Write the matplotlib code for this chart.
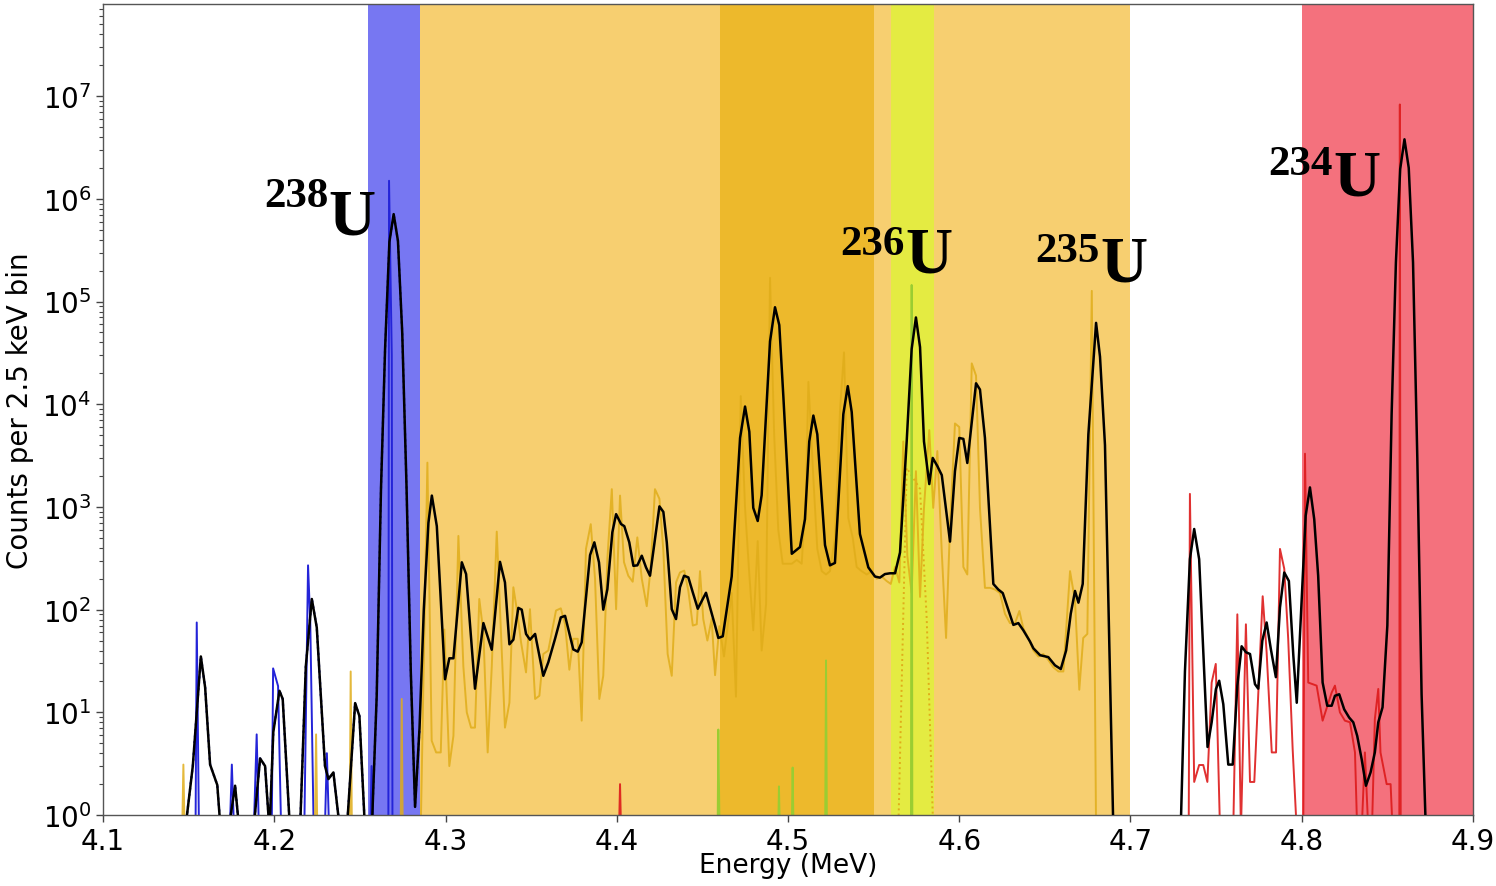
import matplotlib
matplotlib.use("Agg")
import matplotlib.pyplot as plt
from matplotlib.ticker import NullFormatter
import numpy as np

# ---------------- data (energy in MeV, counts per bin) ----------------
total_E = [4.1479, 4.1524, 4.1571, 4.1596, 4.1625, 4.1667, 4.1687, 4.1732, 4.1771, 4.1796,
           4.1878, 4.1917, 4.1946, 4.1972, 4.1994, 4.2030, 4.2049, 4.2092, 4.2150, 4.2184,
           4.2219, 4.2248, 4.2296, 4.2316, 4.2345, 4.2384, 4.2423, 4.2472, 4.2497, 4.2530,
           4.2569, 4.2598, 4.2623, 4.2647, 4.2672, 4.2697, 4.2722, 4.2747, 4.2772, 4.2797,
           4.2822, 4.2848, 4.2873, 4.2900, 4.2920, 4.2949, 4.2997, 4.3022, 4.3046, 4.3095,
           4.3120, 4.3172, 4.3221, 4.3270, 4.3318, 4.3347, 4.3373, 4.3396, 4.3425, 4.3445,
           4.3470, 4.3493, 4.3523, 4.3571, 4.3600, 4.3639, 4.3673, 4.3698, 4.3746, 4.3772,
           4.3795, 4.3844, 4.3869, 4.3896, 4.3921, 4.3945, 4.3974, 4.3996, 4.4025, 4.4044,
           4.4073, 4.4097, 4.4120, 4.4146, 4.4171, 4.4194, 4.4223, 4.4249, 4.4272, 4.4292,
           4.4321, 4.4346, 4.4369, 4.4393, 4.4418, 4.4444, 4.4473, 4.4521, 4.4574, 4.4593,
           4.4619, 4.4671, 4.4720, 4.4749, 4.4774, 4.4797, 4.4823, 4.4846, 4.4895, 4.4924,
           4.4949, 4.4973, 4.5022, 4.5070, 4.5099, 4.5124, 4.5148, 4.5171, 4.5216, 4.5245,
           4.5274, 4.5323, 4.5349, 4.5372, 4.5420, 4.5469, 4.5508, 4.5537, 4.5566, 4.5596,
           4.5625, 4.5654, 4.5693, 4.5722, 4.5747, 4.5771, 4.5794, 4.5825, 4.5845, 4.5872,
           4.5898, 4.5946, 4.5975, 4.6000, 4.6024, 4.6047, 4.6073, 4.6098, 4.6121, 4.6150,
           4.6199, 4.6228, 4.6254, 4.6286, 4.6316, 4.6345, 4.6374, 4.6413, 4.6433, 4.6472,
           4.6520, 4.6559, 4.6593, 4.6624, 4.6651, 4.6676, 4.6696, 4.6721, 4.6754, 4.6799,
           4.6822, 4.6851, 4.6875, 4.6900, 4.7293, 4.7318, 4.7347, 4.7372, 4.7401, 4.7450,
           4.7474, 4.7499, 4.7518, 4.7542, 4.7571, 4.7597, 4.7624, 4.7649, 4.7674, 4.7698,
           4.7727, 4.7746, 4.7770, 4.7795, 4.7820, 4.7849, 4.7873, 4.7898, 4.7925, 4.7951,
           4.7971, 4.8023, 4.8048, 4.8073, 4.8096, 4.8122, 4.8149, 4.8175, 4.8194, 4.8219,
           4.8248, 4.8277, 4.8301, 4.8324, 4.8350, 4.8375, 4.8402, 4.8427, 4.8447, 4.8472,
           4.8500, 4.8525, 4.8550, 4.8575, 4.8600, 4.8625, 4.8650, 4.8675, 4.8700, 4.8725]
total_N = [0.7, 3.0, 35, 17.5, 3.1, 1.96, 0.7, 0.7, 1.93, 0.7,
           0.7, 3.56, 3.0, 0.7, 6.4, 16.2, 13.5, 0.7, 0.7, 28,
           127, 67, 3.0, 2.24, 2.6, 0.7, 0.7, 12.3, 9.2, 0.7,
           0.7, 14.5, 1500, 3.5e4, 3.8e5, 7.1e5, 3.9e5, 5.0e4, 1600, 25,
           1.2, 7, 100, 700, 1290, 650, 21, 33.6, 33.6, 289,
           222, 17, 74, 40.7, 292, 184, 46, 51, 104, 100,
           58, 51, 58, 22.7, 30.7, 51.7, 84, 87, 41, 39,
           48, 340, 452, 289, 100, 158, 566, 851, 681, 650,
           452, 267, 270, 335, 257, 214, 487, 1013, 895, 452,
           101, 81, 165, 214, 206, 147, 102, 146, 70, 53,
           55, 210, 4700, 9500, 5400, 980, 730, 1300, 41000, 88000,
           59000, 11700, 350, 407, 760, 4340, 7760, 5100, 425, 270,
           285, 8000, 15000, 8400, 545, 258, 210, 205, 222, 226,
           226, 360, 4340, 34400, 70000, 36000, 4340, 1670, 3000, 2500,
           2040, 460, 2230, 4700, 4600, 2680, 6600, 16000, 13900, 4700,
           178, 157, 145, 100, 71, 74, 63, 49, 42, 36,
           34.5, 28.7, 26.4, 40, 91, 152, 117, 178, 5100, 62000,
           29000, 4000, 60, 0.7, 0.7, 25, 310, 610, 310, 4.6,
           8, 16.9, 20.3, 12, 3.1, 3.1, 18.2, 44, 38.5, 37,
           18.8, 17, 50, 75, 41, 22, 105, 230, 190, 35.7,
           12.4, 820, 1550, 760, 214, 19.5, 11.6, 11.6, 14.5, 15,
           10.7, 8.9, 8, 5.9, 3.5, 1.93, 2.6, 4.07, 8, 11.2,
           70, 8000, 2.4e5, 1.95e6, 3.8e6, 2.0e6, 2.4e5, 3000, 15, 0.7]

u238_E = [4.1540, 4.1547, 4.1560, 4.1740, 4.1752, 4.1765, 4.1880, 4.1897, 4.1910, 4.1985,
          4.1993, 4.2022, 4.2040, 4.2175, 4.2197, 4.2210, 4.2230, 4.2295, 4.2307, 4.2320,
          4.2560, 4.2568, 4.2580, 4.2666, 4.2670, 4.2686, 4.2690]
u238_N = [0.7, 75, 0.7, 0.7, 3.1, 0.7, 0.7, 6.1, 0.7, 0.7,
          26.8, 18, 0.7, 0.7, 270, 75, 0.7, 0.7, 4.0, 0.7,
          0.7, 3.0, 0.7, 0.7, 1.5e6, 3.0e4, 0.7]

u235_E = [4.1462, 4.1469, 4.1476, 4.2237, 4.2244, 4.2251, 4.2440, 4.2446, 4.2453, 4.2738,
          4.2744, 4.2750, 4.2855, 4.2894, 4.2919, 4.2945, 4.2972, 4.2993, 4.3022, 4.3046,
          4.3075, 4.3104, 4.3124, 4.3149, 4.3172, 4.3197, 4.3221, 4.3246, 4.3270, 4.3299,
          4.3328, 4.3347, 4.3373, 4.3396, 4.3419, 4.3441, 4.3470, 4.3493, 4.3523, 4.3548,
          4.3571, 4.3600, 4.3645, 4.3673, 4.3698, 4.3723, 4.3746, 4.3772, 4.3795, 4.3820,
          4.3848, 4.3873, 4.3898, 4.3921, 4.3945, 4.3971, 4.3996, 4.4019, 4.4042, 4.4067,
          4.4093, 4.4120, 4.4146, 4.4175, 4.4198, 4.4223, 4.4249, 4.4272, 4.4297, 4.4321,
          4.4346, 4.4369, 4.4394, 4.4418, 4.4444, 4.4467, 4.4486, 4.4505, 4.4529, 4.4554,
          4.4574, 4.4599, 4.4626, 4.4671, 4.4696, 4.4724, 4.4749, 4.4774, 4.4797, 4.4823,
          4.4846, 4.4872, 4.4895, 4.4919, 4.4943, 4.4969, 4.4996, 4.5022, 4.5051, 4.5080,
          4.5105, 4.5119, 4.5148, 4.5171, 4.5197, 4.5222, 4.5245, 4.5274, 4.5304, 4.5327,
          4.5352, 4.5378, 4.5401, 4.5430, 4.5460, 4.5489, 4.5518, 4.5547, 4.5576, 4.5600,
          4.5625, 4.5650, 4.5673, 4.5697, 4.5722, 4.5747, 4.5771, 4.5794, 4.5825, 4.5848,
          4.5872, 4.5898, 4.5923, 4.5946, 4.5975, 4.6000, 4.6024, 4.6047, 4.6073, 4.6098,
          4.6121, 4.6150, 4.6180, 4.6209, 4.6238, 4.6267, 4.6296, 4.6326, 4.6351, 4.6374,
          4.6403, 4.6433, 4.6462, 4.6491, 4.6520, 4.6549, 4.6579, 4.6608, 4.6647, 4.6676,
          4.6701, 4.6724, 4.6748, 4.6774, 4.6799]
u235_N = [0.7, 3.1, 0.7, 0.7, 6.1, 0.7, 0.7, 25, 0.7, 0.7,
          13.5, 0.7, 0.7, 2700, 5.3, 4.07, 4.07, 64, 3.0, 5.9,
          522, 28, 10, 7.1, 7.1, 127, 60, 4.07, 28, 575,
          41, 7.1, 12.4, 165, 94, 48, 24.5, 101, 13.5, 14.5,
          37, 40, 98, 103, 72, 26, 52, 52, 8.3, 390,
          680, 200, 13.5, 22.7, 312, 1490, 101, 1290, 290, 214,
          187, 505, 200, 108, 257, 1490, 1200, 375, 37, 22.7,
          184, 230, 240, 152, 70, 72, 237, 81, 50, 81,
          23, 69, 35, 145, 14.2, 12000, 980, 220, 63, 465,
          40, 113, 1.7e5, 5100, 600, 280, 280, 280, 305, 280,
          1450, 16500, 1900, 390, 237, 220, 237, 500, 9000, 32000,
          780, 500, 260, 237, 220, 237, 200, 210, 190, 178,
          260, 184, 4340, 330, 145, 2230, 133, 980, 5600, 980,
          3500, 360, 53, 650, 6500, 6000, 260, 220, 25000, 19000,
          980, 163, 163, 157, 145, 91, 74, 74, 97, 66,
          53, 40, 35, 37, 32.4, 27.5, 25, 25, 237, 122,
          16.6, 53, 58, 1.27e5, 0.7]

u235_dot_E = [4.5644, 4.5693, 4.5732, 4.5771, 4.5810, 4.5848]
u235_dot_N = [0.7, 2400, 1900, 1500, 81, 0.7]

u236_E = [4.4589, 4.4593, 4.4600, 4.4943, 4.4947, 4.4952, 4.5022, 4.5027, 4.5032, 4.5217,
          4.5222, 4.5227, 4.5718, 4.5722, 4.5726]
u236_N = [0.7, 6.8, 0.7, 0.7, 1.9, 0.7, 0.7, 2.9, 0.7, 0.7,
          32, 0.7, 0.7, 1.45e5, 0.7]

u234_E = [4.4013, 4.4019, 4.4025, 4.7340, 4.7347, 4.7372, 4.7401, 4.7425, 4.7449, 4.7474,
          4.7498, 4.7523, 4.7600, 4.7624, 4.7645, 4.7674, 4.7698, 4.7723, 4.7772, 4.7795,
          4.7825, 4.7850, 4.7873, 4.7898, 4.7921, 4.7947, 4.7971, 4.8009, 4.8019, 4.8038,
          4.8087, 4.8122, 4.8175, 4.8194, 4.8223, 4.8252, 4.8282, 4.8311, 4.8324, 4.8350,
          4.8369, 4.8389, 4.8410, 4.8427, 4.8447, 4.8460, 4.8496, 4.8519, 4.8531, 4.8570,
          4.8573, 4.8578]
u234_N = [0.7, 2.0, 0.7, 0.7, 1340, 2.1, 3.07, 3.07, 2.1, 19.5,
          29.6, 0.7, 0.7, 90, 0.7, 72, 2.1, 2.1, 135, 38.5,
          4.07, 4.07, 390, 250, 52, 4.4, 0.7, 0.7, 3300, 19.5,
          18.2, 8.3, 15.6, 18.2, 10, 8.3, 8, 4.07, 0.7, 0.7,
          4.07, 0.7, 0.7, 8.6, 16.9, 4.07, 2.0, 2.0, 0.7, 0.7,
          8.3e6, 0.7]

# energy windows (MeV)
windows = [(4.255, 4.285, '#7777f2'),
           (4.285, 4.700, '#f7cf70'),
           (4.460, 4.550, '#edb92c'),
           (4.560, 4.585, '#e4eb42'),
           (4.800, 4.900, '#f4717d')]

# isotope label: mass number, energy of "U", baseline of "U", baseline of number
isotopes = [("238", 4.2314, 4.65e5, 8.5e5),
            ("236", 4.5683, 1.94e5, 2.9e5),
            ("235", 4.6822, 1.60e5, 2.48e5),
            ("234", 4.8182, 1.11e6, 1.74e6)]

xtick_vals = [4.1, 4.2, 4.3, 4.4, 4.5, 4.6, 4.7, 4.8, 4.9]
xtick_labels = ["4.1", "4.2", "4.3", "4.4", "4.5", "4.6", "4.7", "4.8", "4.9"]

# ---------------- figure ----------------
fig = plt.figure(figsize=(14.96, 8.87), dpi=100)
ax = fig.add_axes([0.0689, 0.0800, 0.9157, 0.9144])

for lo, hi, c in windows:
    ax.axvspan(lo, hi, color=c, lw=0, zorder=0)

mask = np.array(total_E) <= 4.2860
ax.plot(np.array(total_E)[mask], np.array(total_N)[mask], color='#2020d0', ls=':', lw=1.6, zorder=2)
ax.plot(u238_E, u238_N, color='#2424d8', lw=1.4, zorder=2)
ax.plot(u235_E, u235_N, color='#e0ad1a', lw=1.4, alpha=0.85, zorder=2)
ax.plot(u235_dot_E, u235_dot_N, color='#e0ad1a', ls=':', lw=1.4, zorder=2)
ax.plot(u236_E, u236_N, color='#9acd32', lw=1.4, zorder=2)
ax.plot(u234_E, u234_N, color='#dd1a1a', lw=1.4, alpha=0.9, zorder=2)
ax.plot(total_E, total_N, color='black', lw=1.8, zorder=3)

ax.set_yscale('log')
ax.set_xlim(4.1, 4.9)
ax.set_ylim(1, 7.9e7)
ax.yaxis.set_minor_formatter(NullFormatter())

for num, xu, yb_u, yb_n in isotopes:
    ax.text(xu, yb_u, "U", fontfamily='Liberation Serif', fontweight='bold',
            fontsize=47, ha='left', va='baseline', zorder=5)
    ax.text(xu, yb_n, num, fontfamily='Liberation Serif', fontweight='bold',
            fontsize=31, ha='right', va='baseline', zorder=5)

ax.set_xticks(xtick_vals)
ax.set_xticklabels(xtick_labels)
ax.tick_params(axis='both', which='major', labelsize=20, length=5, width=1, color='#444444')
ax.tick_params(axis='y', which='minor', length=3, width=0.8, color='#444444')
ax.set_xlabel("Energy (MeV)", fontsize=19, labelpad=-2)
ax.set_ylabel("Counts per 2.5 keV bin", fontsize=20, labelpad=6)
for s in ax.spines.values():
    s.set_color('#555555')
    s.set_linewidth(1.0)

fig.savefig("out.png", dpi=100)
